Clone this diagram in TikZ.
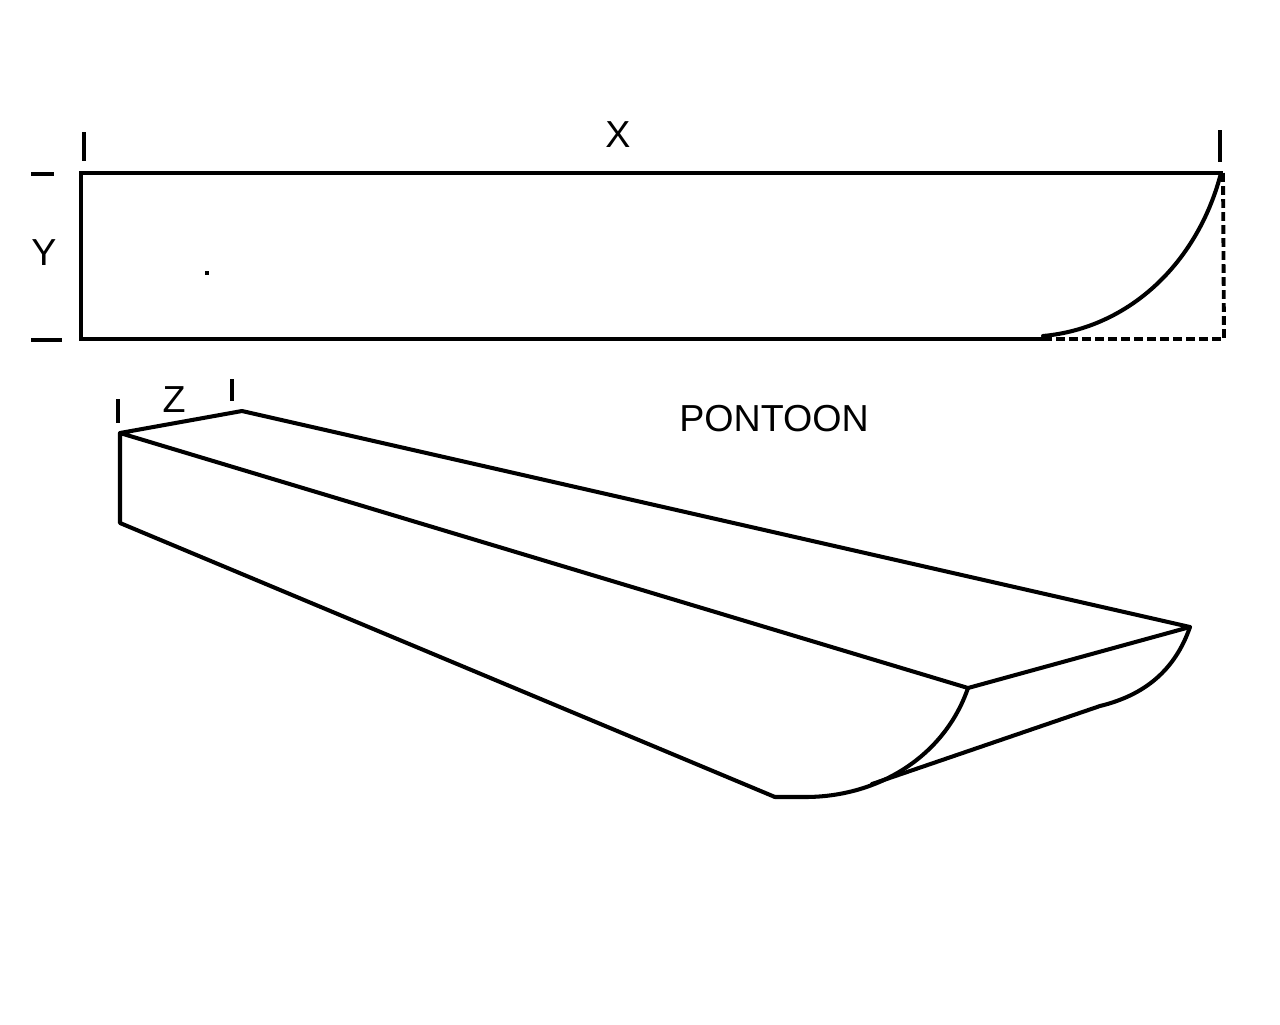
\documentclass[tikz,border=0pt]{standalone}
\usepackage{fontspec}
\setmainfont{Liberation Sans}
\tikzset{
  hull/.style={line width=2.3pt, line join=round, line cap=round},
  tick/.style={line width=2.3pt},
  hidden/.style={line width=2.2pt, dash pattern=on 5pt off 2.4pt},
  lab/.style={inner sep=0pt, font=\fontsize{21.4}{24}\selectfont}
}
\begin{document}
\begin{tikzpicture}[x=0.2mm,y=-0.2mm]
\useasboundingbox (0,0) rectangle (1280,1024);
% side view
\coordinate (tl) at (81,173);
\coordinate (tr) at (1223,173);
\coordinate (bl) at (81,339);
\coordinate (bm) at (1043,339);
\coordinate (br) at (1224,339);
\coordinate (as) at (1043,336);
\coordinate (ae) at (1221,173);
\draw[hidden] (tr) -- (br) -- (bm);
\draw[hull,line join=miter,line cap=butt] (bm) -- (bl) -- (tl) -- (tr);
\draw[hull] (as) .. controls (1130,328) and (1198,262) .. (ae);
% ticks
\coordinate (xa1) at (84,132);
\coordinate (xa2) at (84,161);
\coordinate (xb1) at (1220,130);
\coordinate (xb2) at (1220,162);
\coordinate (ya1) at (31,174);
\coordinate (ya2) at (54,174);
\coordinate (yb1) at (31,340);
\coordinate (yb2) at (62,340);
\coordinate (za1) at (118,399);
\coordinate (za2) at (118,423);
\coordinate (zb1) at (232,379);
\coordinate (zb2) at (232,401);
\draw[tick] (xa1) -- (xa2);
\draw[tick] (xb1) -- (xb2);
\draw[tick] (ya1) -- (ya2);
\draw[tick,line width=2.8pt] (yb1) -- (yb2);
\draw[tick] (za1) -- (za2);
\draw[tick] (zb1) -- (zb2);
\node (spot) at (207,273) [inner sep=0pt,minimum size=2.2pt,fill=black] {};
% labels
\node (xlab) at (618,135) [lab] {X};
\node (ylab) at (44,253) [lab] {Y};
\node (zlab) at (174,400) [lab] {Z};
\node (title) at (774,419) [lab] {PONTOON};
% pontoon
\coordinate (a) at (120,433);
\coordinate (b) at (242,411);
\coordinate (c) at (1190,627);
\coordinate (d) at (968,688);
\coordinate (e) at (120,523);
\coordinate (f) at (775,797);
\coordinate (g) at (805,797);
\coordinate (h) at (872,784);
\coordinate (k) at (1100,706);
\draw[hull] (f) -- (e) -- (a) -- (b) -- (c) -- (d) -- (a);
\draw[hull] (f) -- (g) .. controls (880,797) and (945,755) .. (d);
\draw[hull] (h) -- (k) .. controls (1145,695) and (1175,670) .. (c);
\end{tikzpicture}
\end{document}
